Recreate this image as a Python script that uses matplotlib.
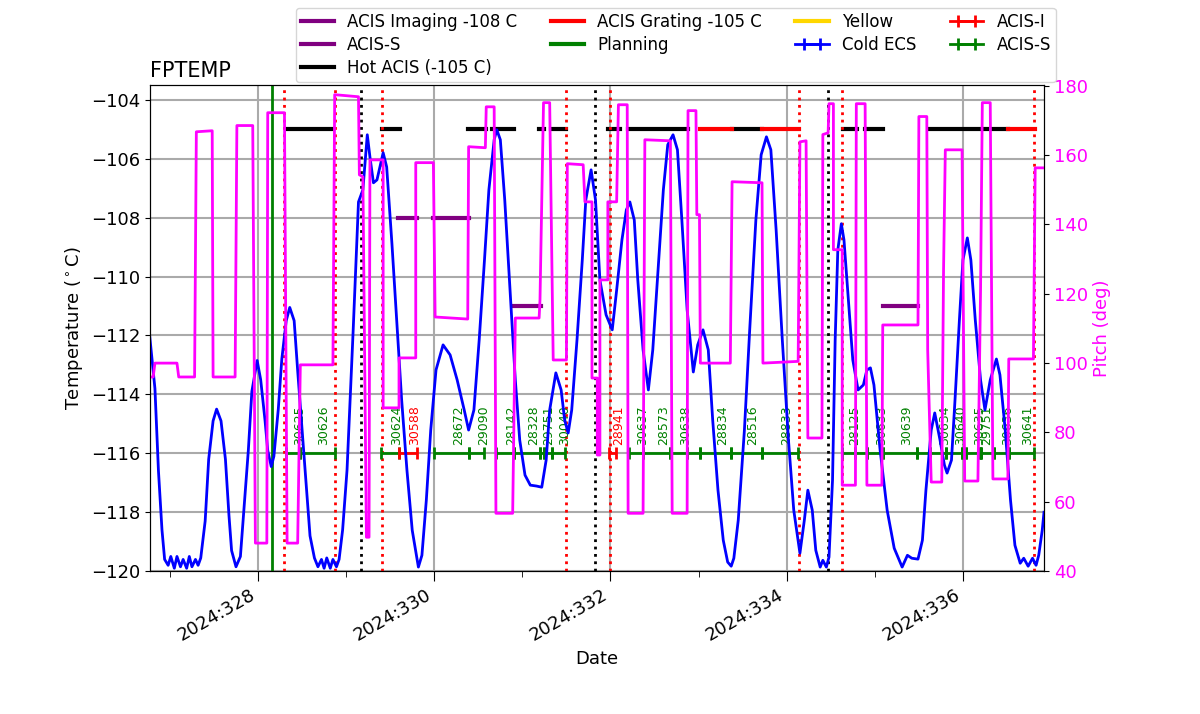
import numpy as np
import matplotlib
matplotlib.use('Agg')
import matplotlib.pyplot as plt
from matplotlib.ticker import MultipleLocator, FuncFormatter
from matplotlib.lines import Line2D

# FPTEMP model (day of year 2024, deg C)
fp_day = [326.77, 326.83, 326.87, 326.91, 326.94, 326.98, 327.01, 327.05, 327.08, 327.12,
          327.15, 327.19, 327.22, 327.25, 327.29, 327.32, 327.35, 327.40, 327.44, 327.49,
          327.53, 327.58, 327.63, 327.67, 327.70, 327.75, 327.80, 327.84, 327.89, 327.93,
          327.99, 328.03, 328.08, 328.11, 328.15, 328.18, 328.23, 328.27, 328.32, 328.36,
          328.41, 328.45, 328.50, 328.55, 328.59, 328.64, 328.68, 328.72, 328.75, 328.78,
          328.82, 328.85, 328.89, 328.92, 328.96, 329.01, 329.08, 329.14, 329.19, 329.24,
          329.27, 329.31, 329.35, 329.42, 329.46, 329.52, 329.58, 329.63, 329.69, 329.75,
          329.82, 329.86, 329.91, 329.96, 330.02, 330.10, 330.18, 330.26, 330.34, 330.39,
          330.45, 330.51, 330.57, 330.62, 330.68, 330.71, 330.75, 330.80, 330.86, 330.92,
          330.97, 331.03, 331.09, 331.16, 331.22, 331.27, 331.31, 331.38, 331.44, 331.48,
          331.52, 331.56, 331.62, 331.68, 331.72, 331.78, 331.83, 331.88, 331.95, 332.02,
          332.07, 332.13, 332.18, 332.22, 332.27, 332.31, 332.37, 332.43, 332.48, 332.54,
          332.60, 332.65, 332.71, 332.76, 332.81, 332.87, 332.94, 332.99, 333.05, 333.11,
          333.16, 333.22, 333.28, 333.33, 333.37, 333.40, 333.45, 333.52, 333.58, 333.65,
          333.71, 333.77, 333.82, 333.88, 333.95, 334.02, 334.08, 334.15, 334.20, 334.24,
          334.29, 334.33, 334.38, 334.41, 334.45, 334.48, 334.52, 334.55, 334.58, 334.62,
          334.65, 334.70, 334.75, 334.81, 334.87, 334.91, 334.95, 334.99, 335.06, 335.14,
          335.22, 335.31, 335.37, 335.42, 335.49, 335.54, 335.58, 335.64, 335.68, 335.74,
          335.79, 335.82, 335.87, 335.91, 335.96, 336.00, 336.05, 336.09, 336.14, 336.20,
          336.25, 336.31, 336.38, 336.42, 336.48, 336.54, 336.59, 336.65, 336.69, 336.74,
          336.79, 336.83, 336.86, 336.90, 336.92]
fp_temp = [-112.0, -113.8, -116.6, -118.6, -119.6, -119.8, -119.5, -119.9, -119.5, -119.85,
           -119.6, -119.9, -119.5, -119.85, -119.6, -119.8, -119.55, -118.3, -116.2, -114.9,
           -114.5, -114.9, -116.2, -118.1, -119.3, -119.85, -119.5, -117.9, -115.9, -113.9,
           -112.85, -113.5, -114.9, -115.9, -116.45, -116.1, -114.5, -112.8, -111.5, -111.05,
           -111.5, -113.2, -115.2, -117.25, -118.8, -119.55, -119.85, -119.6, -119.9, -119.55,
           -119.9, -119.6, -119.85, -119.6, -118.6, -116.57, -111.81, -107.47, -107.06, -105.19,
           -105.94, -106.82, -106.72, -105.80, -106.28, -108.9, -111.81, -114.19, -116.57, -118.61,
           -119.86, -119.46, -117.59, -115.21, -113.17, -112.32, -112.66, -113.51, -114.53, -115.21,
           -114.53, -112.15, -109.44, -107.06, -105.36, -105.02, -105.36, -107.40, -110.46, -113.51,
           -115.55, -116.74, -117.08, -117.11, -117.15, -116.23, -114.53, -113.27, -113.85, -114.87,
           -115.31, -114.53, -112.15, -109.44, -107.40, -106.38, -107.40, -110.12, -111.30, -111.81,
           -110.46, -108.76, -107.74, -107.47, -108.08, -110.12, -112.49, -113.85, -112.49, -109.78,
           -107.06, -105.53, -105.19, -105.70, -108.08, -111.13, -113.24, -112.32, -111.81, -112.49,
           -114.87, -117.25, -118.95, -119.69, -119.83, -119.56, -118.27, -115.21, -111.81, -108.08,
           -105.87, -105.26, -105.70, -108.42, -112.15, -115.55, -117.93, -119.39, -118.27, -117.25,
           -117.93, -119.29, -119.86, -119.63, -119.86, -119.52, -116.91, -112.15, -109.10, -108.21,
           -108.76, -110.79, -112.83, -113.85, -113.68, -113.17, -113.10, -113.68, -115.89, -117.93,
           -119.22, -119.86, -119.46, -119.56, -119.59, -118.95, -117.25, -115.21, -114.63, -115.55,
           -116.40, -116.67, -116.23, -114.19, -111.47, -109.44, -108.69, -109.44, -111.47, -113.51,
           -114.53, -113.51, -112.80, -113.34, -115.21, -117.59, -119.12, -119.73, -119.56, -119.83,
           -119.56, -119.80, -119.46, -118.61, -118.0]

# pitch (deg), step-like
pitch_day = [326.77, 326.81, 326.83, 327.08, 327.10, 327.28, 327.30, 327.48, 327.49, 327.74,
             327.76, 327.94, 327.97, 328.10, 328.11, 328.30, 328.33, 328.45, 328.48, 328.85,
             328.87, 329.14, 329.15, 329.19, 329.23, 329.26, 329.27, 329.42, 329.42, 329.60,
             329.60, 329.79, 329.79, 329.99, 330.01, 330.38, 330.39, 330.58, 330.59, 330.68,
             330.70, 330.89, 330.92, 331.19, 331.20, 331.24, 331.31, 331.35, 331.50, 331.51,
             331.69, 331.71, 331.79, 331.79, 331.85, 331.85, 331.88, 331.88, 331.97, 331.97,
             332.07, 332.09, 332.19, 332.20, 332.37, 332.39, 332.68, 332.70, 332.87, 332.88,
             332.97, 332.98, 333.01, 333.02, 333.36, 333.38, 333.72, 333.73, 334.13, 334.15,
             334.22, 334.24, 334.40, 334.41, 334.47, 334.48, 334.53, 334.53, 334.63, 334.63,
             334.78, 334.79, 334.89, 334.91, 335.08, 335.09, 335.49, 335.50, 335.59, 335.60,
             335.64, 335.76, 335.78, 335.80, 335.99, 336.02, 336.17, 336.20, 336.22, 336.31,
             336.34, 336.51, 336.52, 336.80, 336.82, 336.92]
pitch_deg = [96.0, 96.0, 100.0, 100.0, 96.0, 96.0, 166.7, 167.0, 96.0, 96.0,
             168.5, 168.5, 48.1, 48.1, 172.2, 172.2, 48.1, 48.1, 99.5, 99.5,
             177.4, 176.8, 154.3, 153.7, 49.8, 49.8, 158.6, 158.6, 87.1, 87.1,
             101.5, 101.5, 157.8, 157.8, 113.3, 112.7, 162.4, 162.1, 173.9, 173.9,
             56.7, 56.7, 113.0, 113.0, 118.2, 175.1, 175.1, 100.9, 100.9, 157.5,
             157.2, 146.5, 146.5, 95.7, 95.7, 73.5, 73.5, 124.0, 124.0, 146.5,
             146.5, 174.5, 174.5, 56.7, 56.7, 164.4, 164.1, 56.7, 56.7, 172.8,
             172.8, 142.8, 142.8, 100.0, 100.0, 152.3, 152.0, 100.0, 100.5, 163.8,
             164.1, 78.4, 78.4, 165.9, 166.4, 174.8, 174.8, 132.7, 132.7, 64.8,
             64.8, 174.8, 174.8, 64.8, 64.8, 111.0, 111.0, 171.1, 171.1, 103.8,
             65.7, 65.7, 126.9, 161.5, 161.5, 66.0, 66.0, 121.1, 175.1, 175.1,
             66.6, 66.6, 101.2, 101.2, 156.3, 156.3]

# planning limit bars (start day, end day)
hot_acis = [(328.33, 328.85), (329.41, 329.61), (330.38, 330.59), (330.66, 330.91),
            (331.19, 331.25), (331.33, 331.50), (331.97, 332.11), (332.20, 332.88),
            (333.38, 333.72), (334.64, 334.80), (334.89, 335.09), (335.63, 336.51)]
grating = [(333.02, 333.38), (333.72, 334.14), (336.51, 336.82)]
imaging = [(329.59, 329.80), (329.99, 330.39)]
acis_s_lim = [(330.91, 331.21), (335.09, 335.49)]
hot_level, grating_level, imaging_level, acis_s_level = -105.0, -105.0, -108.0, -111.0

planning_day = 328.155
red_dot_days = [328.30, 328.87, 329.41, 331.50, 331.99, 334.14, 334.63, 336.81]
black_dot_days = [329.17, 331.82, 334.47]

# observations along -116 C
obs_start = [328.32, 328.48, 329.40, 329.60, 330.00, 330.40, 330.70, 330.91, 331.20, 331.24,
             331.34, 331.98, 332.21, 332.37, 332.68, 332.87, 333.02, 333.37, 333.72, 334.63,
             334.77, 334.91, 335.09, 335.48, 335.63, 335.81, 335.99, 336.04, 336.19, 336.21,
             336.35, 336.52]
obs_end = [328.48, 328.87, 329.60, 329.80, 330.40, 330.57, 330.91, 331.20, 331.24, 331.34,
           331.48, 332.06, 332.37, 332.68, 332.87, 333.02, 333.37, 333.72, 334.13, 334.77,
           334.91, 335.09, 335.48, 335.63, 335.81, 335.99, 336.04, 336.19, 336.21, 336.35,
           336.52, 336.81]
obs_id = ['30625', '30626', '30624', '30588', '28672', '29090', '28142', '28328', '29751', '',
          '30040', '28941', '30637', '28573', '30638', '', '28834', '28516', '28833', '28125',
          '', '30633', '30639', '', '30634', '30640', '', '30635', '29751', '',
          '30636', '30641']
obs_inst = ['S', 'S', 'S', 'I', 'S', 'S', 'S', 'S', 'S', 'S',
            'S', 'I', 'S', 'S', 'S', 'S', 'S', 'S', 'S', 'S',
            'S', 'S', 'S', 'S', 'S', 'S', 'S', 'S', 'S', 'S',
            'S', 'S']
obs_level = -116.0

fig = plt.figure(figsize=(12, 7.14), dpi=100)
ax = fig.add_axes([0.125, 0.2, 0.745, 0.681])

ax.plot(fp_day, fp_temp, color='blue', lw=2, zorder=5)

for s, e in imaging:
    ax.plot([s, e], [imaging_level] * 2, color='purple', lw=3)
for s, e in acis_s_lim:
    ax.plot([s, e], [acis_s_level] * 2, color='purple', lw=3)
for s, e in hot_acis:
    ax.plot([s, e], [hot_level] * 2, color='black', lw=3)
for s, e in grating:
    ax.plot([s, e], [grating_level] * 2, color='red', lw=3)

ax.axvline(planning_day, color='green', lw=2)
for d in red_dot_days:
    ax.axvline(d, color='red', ls=':', lw=2)
for d in black_dot_days:
    ax.axvline(d, color='black', ls=':', lw=2)

for s, e, oid, inst in zip(obs_start, obs_end, obs_id, obs_inst):
    c = 'red' if inst == 'I' else 'green'
    mid = 0.5 * (s + e)
    ax.errorbar([mid], [obs_level], xerr=[0.5 * (e - s)], color=c, lw=2,
                capsize=4, capthick=2, fmt='none')
    if oid:
        ax.annotate(oid, (mid, obs_level), xytext=(0, 6), textcoords='offset points',
                    rotation=90, ha='left', va='bottom', color=c, fontsize=9)

ax.set_xlim(326.774, 336.92)
ax.set_ylim(-120, -103.5)
ax.xaxis.set_major_locator(MultipleLocator(2))
ax.xaxis.set_minor_locator(MultipleLocator(1))
ax.xaxis.set_major_formatter(FuncFormatter(lambda v, p: '2024:%03d' % round(v)))
ax.tick_params(axis='both', labelsize=13)
ax.tick_params(axis='x', which='major', length=7)
ax.tick_params(axis='x', which='minor', length=4)
plt.setp(ax.get_xticklabels(), rotation=30, ha='right')
ax.grid(True, color='#aaaaaa', lw=1.5)
ax.set_axisbelow(True)
ax.set_xlabel('Date', fontsize=13)
ax.set_ylabel(r'Temperature ($^\circ$C)', fontsize=13)
ax.set_title('FPTEMP', loc='left', fontsize=15)

ax2 = ax.twinx()
ax2.plot(pitch_day, pitch_deg, color='magenta', lw=2)
ax2.set_ylim(40, 180.2)
ax2.set_ylabel('Pitch (deg)', color='magenta', fontsize=13)
ax2.tick_params(axis='y', labelcolor='magenta', labelsize=13)

handles = [
    Line2D([], [], color='purple', lw=3),
    Line2D([], [], color='purple', lw=3),
    Line2D([], [], color='black', lw=3),
    Line2D([], [], color='red', lw=3),
    Line2D([], [], color='green', lw=3),
    Line2D([], [], color='gold', lw=3),
    ax.errorbar([np.nan], [np.nan], xerr=[1], color='blue', lw=2, capsize=4, capthick=2),
    ax.errorbar([np.nan], [np.nan], xerr=[1], color='red', lw=2, capsize=4, capthick=2),
    ax.errorbar([np.nan], [np.nan], xerr=[1], color='green', lw=2, capsize=4, capthick=2),
]
labels = ['ACIS Imaging -108 C', 'ACIS-S', 'Hot ACIS (-105 C)', 'ACIS Grating -105 C',
          'Planning', 'Yellow', 'Cold ECS', 'ACIS-I', 'ACIS-S']
ax2.legend(handles, labels, ncol=4, loc='lower center', bbox_to_anchor=(0.588, 1.006),
           borderaxespad=0, fontsize=12, handlelength=2, labelspacing=0.3, borderpad=0.3)

fig.savefig('out.png', dpi=100)
